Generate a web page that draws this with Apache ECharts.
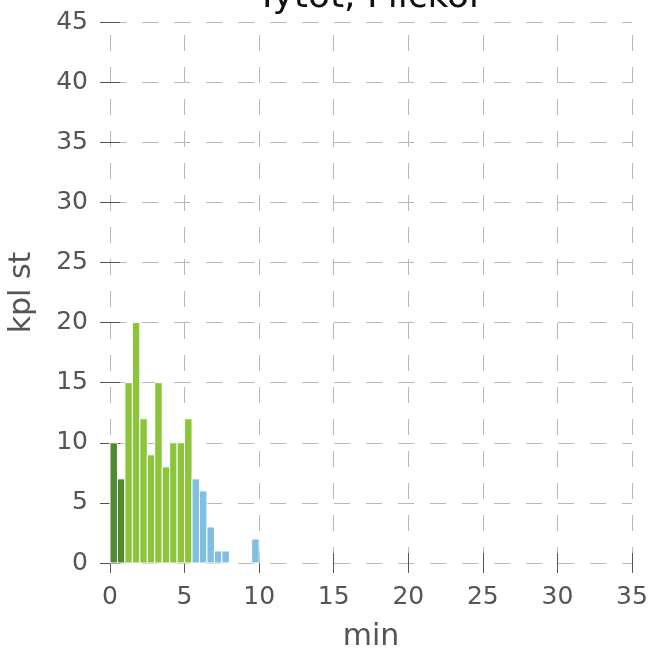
<!DOCTYPE html>
<html>
<head>
<meta charset="utf-8">
<script src="https://cdn.jsdelivr.net/npm/echarts@6/dist/echarts.min.js"></script>
<style>html,body{margin:0;padding:0;background:#fff;overflow:hidden}#c{width:650px;height:651px}</style>
</head>
<body>
<div id="c"></div>
<script>
// Data (histogram bins of 0.5 min, starting at each group's start)
const binWidth = 0.5;
const darkStart = 0;
const darkCounts = [10, 7];
const lightStart = 1;
const lightCounts = [15, 20, 12, 9, 15, 8, 10, 10, 12];
const blueStart = 5.5;
const blueCounts = [7, 6, 3, 1, 1, 0, 0, 0, 2];
const xTicks = [0, 5, 10, 15, 20, 25, 30, 35];
const yTicks = [0, 5, 10, 15, 20, 25, 30, 35, 40, 45];
const titleText = 'Tytöt, Flickor';
const xName = 'min';
const yName = 'kpl st';

function toBins(start, counts) {
  return counts.map((c, i) => [start + i * binWidth, start + (i + 1) * binWidth, c]);
}

const chart = echarts.init(document.getElementById('c'), null, {renderer: 'canvas', width: 650, height: 651});
const font = 'DejaVu Sans';
const tickColor = '#555555';
const gridColor = '#b8b8b8';

function renderBar(params, api) {
  const x0 = api.value(0), x1 = api.value(1), v = api.value(2);
  if (!v) return null;
  const p0 = api.coord([x0, v]);
  const p1 = api.coord([x1, 0]);
  return {
    type: 'rect',
    shape: {x: p0[0], y: p0[1], width: p1[0] - p0[0], height: p1[1] - p0[1]},
    style: {fill: api.visual('color'), stroke: '#ffffff', lineWidth: 1}
  };
}

const option = {
  animation: false,
  backgroundColor: '#ffffff',
  grid: {left: 110, width: 522, top: 22, height: 541, containLabel: false, outerBoundsMode: 'none'},
  graphic: [{
    type: 'text', x: 370, y: -2, z: 10,
    style: {text: titleText, font: '36px "DejaVu Sans"', fill: '#111', textAlign: 'center', textVerticalAlign: 'middle'}
  }],
  xAxis: [{
    type: 'value', min: 0, max: 35, interval: 5, position: 'bottom',
    name: xName, nameLocation: 'middle', nameGap: 59,
    nameTextStyle: {fontFamily: font, fontSize: 30, color: tickColor},
    axisLine: {show: false},
    axisTick: {show: true, inside: false, length: 10, lineStyle: {color: tickColor, width: 1}},
    axisLabel: {margin: 22, fontFamily: font, fontSize: 25, color: tickColor,
      formatter: v => xTicks.includes(v) ? String(v) : ''},
    splitLine: {show: true, lineStyle: {color: gridColor, width: 1, type: [16, 16], dashOffset: 19}}
  }, {
    type: 'value', min: 0, max: 35, interval: 5, position: 'top',
    axisLine: {show: false},
    axisTick: {show: true, inside: false, length: 10, lineStyle: {color: tickColor, width: 1}},
    axisLabel: {show: false},
    splitLine: {show: false}
  }],
  yAxis: [{
    type: 'value', min: 0, max: 45, interval: 5, position: 'left',
    name: yName, nameLocation: 'middle', nameGap: 73, nameRotate: 90,
    nameTextStyle: {fontFamily: font, fontSize: 30, color: tickColor},
    axisLine: {show: false},
    axisTick: {show: true, inside: false, length: 10, lineStyle: {color: tickColor, width: 1}},
    axisLabel: {margin: 22, fontFamily: font, fontSize: 25, color: tickColor,
      formatter: v => yTicks.includes(v) ? String(v) : ''},
    splitLine: {show: true, lineStyle: {color: gridColor, width: 1, type: [16, 16], dashOffset: 0}}
  }, {
    type: 'value', min: 0, max: 45, interval: 5, position: 'right',
    axisLine: {show: false},
    axisTick: {show: true, inside: false, length: 10, lineStyle: {color: tickColor, width: 1}},
    axisLabel: {show: false},
    splitLine: {show: false}
  }],
  series: [
    {type: 'custom', name: 'dark', xAxisIndex: 0, yAxisIndex: 0, color: '#4e8a30',
      renderItem: renderBar, data: toBins(darkStart, darkCounts), encode: {x: [0, 1], y: 2}, z: 5},
    {type: 'custom', name: 'light', xAxisIndex: 0, yAxisIndex: 0, color: '#8cc43c',
      renderItem: renderBar, data: toBins(lightStart, lightCounts), encode: {x: [0, 1], y: 2}, z: 5},
    {type: 'custom', name: 'blue', xAxisIndex: 0, yAxisIndex: 0, color: '#80bfe0',
      renderItem: renderBar, data: toBins(blueStart, blueCounts), encode: {x: [0, 1], y: 2}, z: 5}
  ]
};
chart.setOption(option);
</script>
</body>
</html>
